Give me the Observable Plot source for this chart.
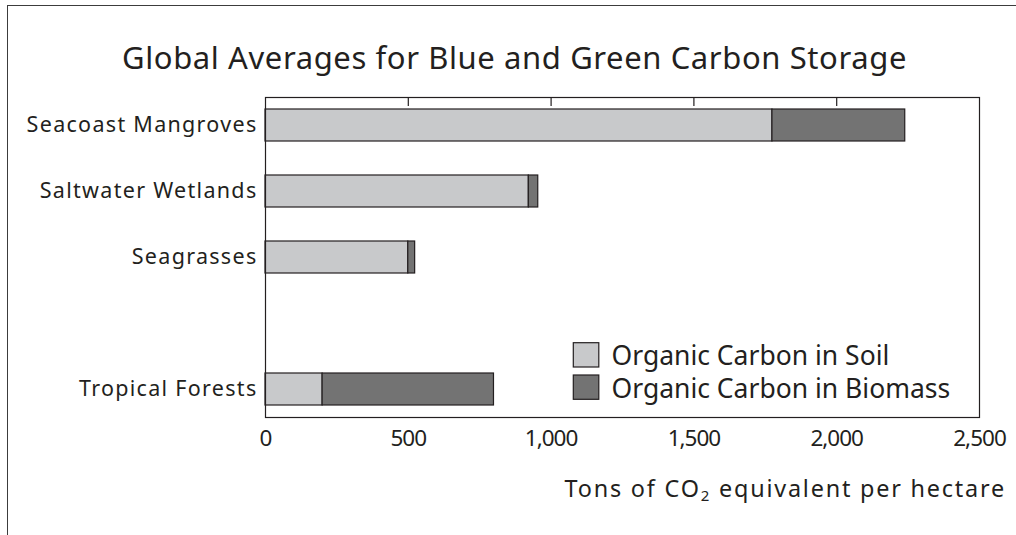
<!DOCTYPE html>
<html>
<head>
<meta charset="utf-8">
<script src="https://cdn.jsdelivr.net/npm/d3@7"></script>
<script src="https://cdn.jsdelivr.net/npm/@observablehq/plot@0.6"></script>
<style>
  html, body { margin: 0; padding: 0; background: #fff; }
  #wrap { position: relative; width: 1016px; height: 535px; overflow: hidden; }
  #border { position: absolute; left: 6.5px; top: 5px; width: 1020px; height: 540px;
            border-top: 1.5px solid #3c3c3c; border-left: 1.5px solid #3c3c3c; }
  #chart { position: absolute; left: 0; top: 0; }
</style>
</head>
<body>
<div id="wrap"><div id="border"></div><div id="chart"></div></div>
<script>
const categories = ["Seacoast Mangroves", "Saltwater Wetlands", "Seagrasses", "Tropical Forests"];
const series = ["Organic Carbon in Soil", "Organic Carbon in Biomass"];
const soil = [1775, 922, 500, 200];
const biomass = [465, 33, 24, 600];
const xTicks = [0, 500, 1000, 1500, 2000, 2500];
const topTicks = [500, 1000, 1500, 2000];
const colors = ["#c8c9cb", "#737373"];
const title = "Global Averages for Blue and Green Carbon Storage";

const FONT = "'Noto Sans', sans-serif";
const INK = "#231f20";

const rows = [];
[soil, biomass].forEach((vals, si) => {
  categories.forEach((c, i) => rows.push({category: c, type: series[si], value: vals[i]}));
});
// the blank slot between Seagrasses and Tropical Forests
const yDomain = [categories[0], categories[1], categories[2], "", categories[3]];

const svg = Plot.plot({
  width: 1016,
  height: 535,
  marginTop: 97,
  marginBottom: 118,
  marginLeft: 265,
  marginRight: 37,
  style: {fontFamily: FONT, color: INK, background: "transparent", overflow: "visible"},
  x: {domain: [0, 2500], axis: null},
  y: {domain: yDomain, paddingInner: 0.5115, paddingOuter: 0.17, axis: null},
  color: {domain: series, range: colors},
  marks: [
    Plot.barX(rows, {y: "category", x: "value", fill: "type", stroke: INK, strokeWidth: 1.2}),
    Plot.frame({stroke: INK, strokeWidth: 1.2}),
    Plot.ruleX(topTicks, {x: d => d, insetBottom: 311, stroke: INK, strokeWidth: 1.2}),
    Plot.axisY({tickSize: 0, tickPadding: 8, fontSize: 21.5, label: null, fill: INK,
                tickFormat: d => d}),
    Plot.axisX({anchor: "bottom", ticks: xTicks, tickSize: 0, tickPadding: 13, fontSize: 22.5,
                tickFormat: d3.format(","), label: null, fill: INK})
  ]
});
document.getElementById("chart").appendChild(svg);

const s = d3.select(svg);
s.selectAll("g[aria-label='y-axis tick label'] text").style("letter-spacing", "1.3px");
s.selectAll("g[aria-label='x-axis tick label'] text").style("letter-spacing", "-1px");
const color = svg.scale("color");
// title
s.append("text").attr("x", 514.5).attr("y", 68.5).attr("text-anchor", "middle")
  .attr("font-size", 31).attr("fill", INK).attr("font-family", FONT)
  .style("letter-spacing", "0.6px").text(title);
// legend
const lg = s.append("g").attr("font-family", FONT).attr("font-size", 26.5).attr("fill", INK)
  .attr("text-anchor", "start");
series.forEach((name, i) => {
  const y0 = 342.7 + i * 32.3;
  lg.append("rect").attr("x", 573.3).attr("y", y0).attr("width", 25.5).attr("height", 24.3)
    .attr("fill", color.apply(name)).attr("stroke", INK).attr("stroke-width", 1.2);
  lg.append("text").attr("x", 611.5).attr("y", y0 + 22.5).text(name);
});
// x-axis label with subscript
const xl = s.append("text").attr("x", 1006).attr("y", 496.7).attr("text-anchor", "end")
  .attr("font-family", FONT).attr("font-size", 23.4).attr("fill", INK)
  .style("letter-spacing", "1.8px");
xl.append("tspan").text("Tons of CO");
xl.append("tspan").attr("font-size", 15).attr("dy", 4).text("2");
xl.append("tspan").attr("dy", -4).text(" equivalent per hectare");
</script>
</body>
</html>
